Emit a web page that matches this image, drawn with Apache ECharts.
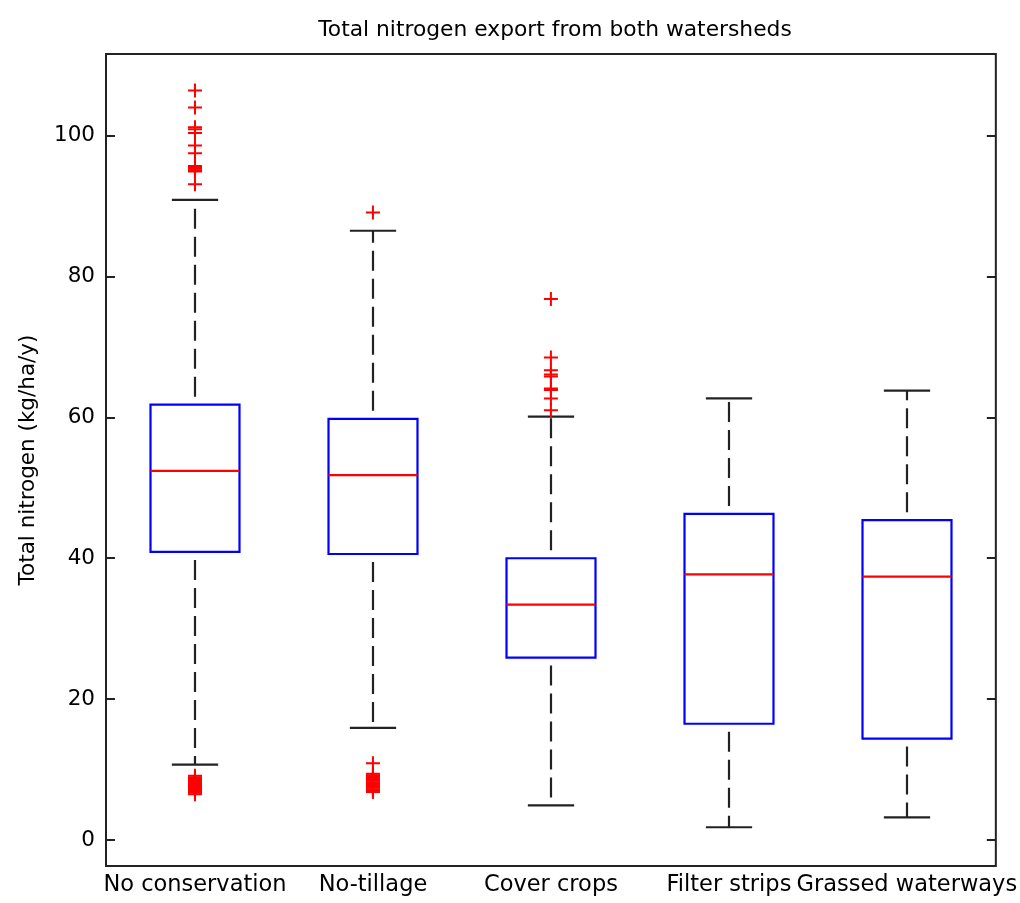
<!DOCTYPE html>
<html>
<head>
<meta charset="utf-8">
<script src="https://cdn.jsdelivr.net/npm/echarts@6/dist/echarts.min.js"></script>
<style>
  html, body { margin: 0; padding: 0; background: #fff; }
  #main { width: 1020px; height: 903px; }
</style>
</head>
<body>
<div id="main"></div>
<script>
// categories and box statistics
var categories = ['No conservation', 'No-tillage', 'Cover crops', 'Filter strips', 'Grassed waterways'];
var lowerWhisker = [10.7, 15.9, 4.9, 1.8, 3.2];
var q1 = [40.9, 40.6, 25.9, 16.5, 14.4];
var median = [52.4, 51.8, 33.4, 37.7, 37.4];
var q3 = [61.8, 59.8, 40.0, 46.3, 45.4];
var upperWhisker = [90.9, 86.5, 60.1, 62.7, 63.8];

// outliers per category
var outliers = [
  [106.4, 104.0, 101.2, 100.9, 100.4, 98.6, 97.5, 95.7, 95.5, 95.3, 95.1, 94.9, 93.1,
   9.1, 8.9, 8.7, 8.5, 8.3, 8.1, 7.9, 7.7, 7.5, 7.3, 7.1, 6.9, 6.7, 6.5],
  [89.1, 10.9,
   9.4, 9.2, 9.0, 8.8, 8.6, 8.4, 8.2, 8.0, 7.8, 7.6, 7.4, 7.2, 7.0, 6.8],
  [76.8, 68.5, 66.7, 66.1, 65.8, 64.1, 63.9, 62.7, 61.0],
  [],
  []
];

var yTicks = [0, 20, 40, 60, 80, 100];

var boxData = categories.map(function (c, i) {
  return [i, lowerWhisker[i], q1[i], median[i], q3[i], upperWhisker[i]];
});
var outlierData = [];
outliers.forEach(function (list, i) {
  list.forEach(function (v) { outlierData.push([i, v]); });
});

var FONT = 'DejaVu Sans';
var AXIS_COLOR = '#222';

function renderBox(params, api) {
  var idx = api.value(0);
  var lo = api.coord([idx, api.value(1)]);
  var b1 = api.coord([idx, api.value(2)]);
  var md = api.coord([idx, api.value(3)]);
  var b3 = api.coord([idx, api.value(4)]);
  var hi = api.coord([idx, api.value(5)]);
  var band = api.size([1, 0])[0];
  var cx = Math.round(lo[0]);
  var bw = band * 0.5;
  var cw = band * 0.26;
  var dash = { stroke: AXIS_COLOR, lineWidth: 2.2, lineDash: [20, 8], lineDashOffset: 20, fill: null };
  var solid = { stroke: AXIS_COLOR, lineWidth: 2.2, fill: null };
  return {
    type: 'group',
    children: [
      { type: 'line', shape: { x1: cx, y1: b3[1], x2: cx, y2: hi[1] }, style: dash },
      { type: 'line', shape: { x1: cx, y1: b1[1], x2: cx, y2: lo[1] }, style: dash },
      { type: 'line', shape: { x1: cx - cw / 2, y1: hi[1], x2: cx + cw / 2, y2: hi[1] }, style: solid },
      { type: 'line', shape: { x1: cx - cw / 2, y1: lo[1], x2: cx + cw / 2, y2: lo[1] }, style: solid },
      { type: 'rect', shape: { x: cx - bw / 2, y: b3[1], width: bw, height: b1[1] - b3[1] },
        style: { stroke: '#0000ff', lineWidth: 2.2, fill: null } },
      { type: 'line', shape: { x1: cx - bw / 2, y1: md[1], x2: cx + bw / 2, y2: md[1] },
        style: { stroke: '#ff0000', lineWidth: 2.2, fill: null } }
    ]
  };
}

var chart = echarts.init(document.getElementById('main'), null, { renderer: 'canvas' });

var option = {
  backgroundColor: '#ffffff',
  animation: false,
  title: {
    text: 'Total nitrogen export from both watersheds',
    left: 550,
    top: 14,
    textAlign: 'center',
    textStyle: { fontFamily: FONT, fontSize: 21.8, fontWeight: 'normal', color: '#000' }
  },
  grid: {
    left: 106, right: 23, top: 54, bottom: 37,
    show: true, borderColor: AXIS_COLOR, borderWidth: 2, backgroundColor: 'transparent'
  },
  xAxis: {
    type: 'category',
    data: categories,
    boundaryGap: true,
    axisLine: { show: false },
    axisTick: { show: false },
    splitLine: { show: false },
    axisLabel: {
      interval: 0, margin: 8, color: '#000',
      fontFamily: FONT, fontSize: 22.5
    }
  },
  yAxis: [
    {
      type: 'value',
      name: 'Total nitrogen (kg/ha/y)',
      nameLocation: 'middle',
      nameGap: 67,
      nameTextStyle: { fontFamily: FONT, fontSize: 21.5, color: '#000' },
      min: -3.7,
      max: 111.6,
      splitLine: { show: false },
      axisLine: { show: false },
      axisTick: { show: true, inside: true, length: 9, customValues: yTicks,
        lineStyle: { color: AXIS_COLOR, width: 2 } },
      axisLabel: { customValues: yTicks, margin: 11, color: '#000', fontFamily: FONT, fontSize: 21.5 }
    },
    {
      type: 'value',
      position: 'right',
      min: -3.7,
      max: 111.6,
      splitLine: { show: false },
      axisLine: { show: false },
      axisTick: { show: true, inside: true, length: 9, customValues: yTicks,
        lineStyle: { color: AXIS_COLOR, width: 2 } },
      axisLabel: { show: false }
    }
  ],
  series: [
    {
      type: 'custom',
      name: 'box',
      renderItem: renderBox,
      encode: { x: 0, y: [1, 2, 3, 4, 5] },
      data: boxData,
      z: 2
    },
    {
      type: 'scatter',
      name: 'outliers',
      symbol: 'path://M6,0H8V6H14V8H8V14H6V8H0V6H6Z',
      symbolSize: 14,
      itemStyle: { color: '#ff0000', opacity: 1 },
      data: outlierData,
      z: 3
    }
  ]
};

chart.setOption(option);
</script>
</body>
</html>
